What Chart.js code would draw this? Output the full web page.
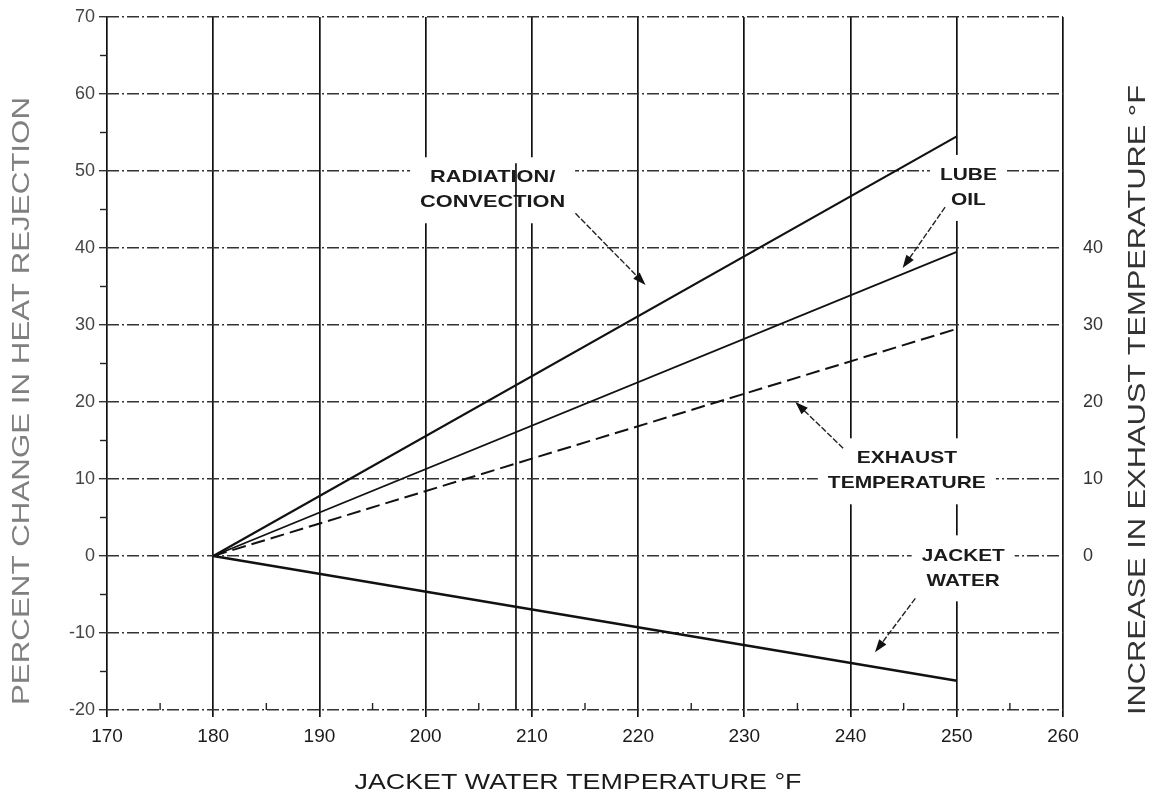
<!DOCTYPE html>
<html>
<head>
<meta charset="utf-8">
<script src="https://cdn.jsdelivr.net/npm/chart.js@4.4.1/dist/chart.umd.min.js"></script>
<style>
  html, body { margin: 0; padding: 0; background: #fff; }
  #wrap { width: 1160px; height: 803px; }
</style>
</head>
<body>
<div id="wrap"><canvas id="c" width="1160" height="803"></canvas></div>
<script>
// Jacket water temperature (°F) on the horizontal axis
const X_TICKS = [170, 180, 190, 200, 210, 220, 230, 240, 250, 260];
const X_MINOR = [175, 185, 195, 205, 215, 225, 235, 245, 255];
const Y_TICKS = [-20, -10, 0, 10, 20, 30, 40, 50, 60, 70];
const Y_MINOR = [-15, -5, 5, 15, 25, 35, 45, 55, 65];
const RIGHT_TICKS = [0, 10, 20, 30, 40];

// Each curve runs from the 180 °F reference to 250 °F
const JACKET_TEMP = [180, 250];
const RADIATION_CONVECTION = [0, 54.5];
const LUBE_OIL = [0, 39.5];
const EXHAUST_TEMPERATURE = [0, 29.5];
const JACKET_WATER = [0, -16.2];

// Short extra rule near 208.5 °F (x, from y, to y)
const EXTRA_RULE = [208.5, 51, -20];

const pts = (ys) => JACKET_TEMP.map((x, i) => ({ x, y: ys[i] }));

// Callout labels with leader arrows, in data units
const NOTES = [
  { lines: ['RADIATION/', 'CONVECTION'], at: [206.3, 47.5], w: 145, from: [214.1, 44.5], to: [220.7, 35.2] },
  { lines: ['LUBE', 'OIL'], at: [251.1, 47.8], w: 57, from: [248.9, 45.3], to: [244.9, 37.4] },
  { lines: ['EXHAUST', 'TEMPERATURE'], at: [245.3, 11.0], w: 158, from: [239.3, 14.0], to: [234.8, 20.0] },
  { lines: ['JACKET', 'WATER'], at: [250.6, -1.6], w: 83, from: [246.1, -5.5], to: [242.3, -12.5] }
];

const FONT = "'Liberation Sans', Arial, sans-serif";

function stretchedText(ctx, text, cx, cy, font, target, color, rot) {
  ctx.save();
  ctx.translate(cx, cy);
  ctx.rotate(rot || 0);
  ctx.font = font;
  const w = ctx.measureText(text).width;
  ctx.scale(target / w, 1);
  ctx.textAlign = 'center';
  ctx.textBaseline = 'middle';
  ctx.fillStyle = color;
  ctx.fillText(text, 0, 0);
  ctx.restore();
}

function arrow(ctx, x1, y1, x2, y2) {
  const a = Math.atan2(y2 - y1, x2 - x1);
  const L = 13, H = 4.5;
  ctx.save();
  ctx.strokeStyle = '#222';
  ctx.lineWidth = 1.4;
  ctx.setLineDash([6, 2]);
  ctx.beginPath();
  ctx.moveTo(x1, y1);
  ctx.lineTo(x2 - Math.cos(a) * L * 0.7, y2 - Math.sin(a) * L * 0.7);
  ctx.stroke();
  ctx.setLineDash([]);
  ctx.fillStyle = '#111';
  ctx.beginPath();
  ctx.moveTo(x2, y2);
  ctx.lineTo(x2 - L * Math.cos(a) + H * Math.sin(a), y2 - L * Math.sin(a) - H * Math.cos(a));
  ctx.lineTo(x2 - L * Math.cos(a) - H * Math.sin(a), y2 - L * Math.sin(a) + H * Math.cos(a));
  ctx.closePath();
  ctx.fill();
  ctx.restore();
}

const overlay = {
  id: 'overlay',
  beforeDatasetsDraw(chart) {
    const { ctx, scales: { x, y } } = chart;
    // minor ticks: left axis outward, bottom axis inward
    ctx.save();
    ctx.strokeStyle = '#222';
    ctx.lineWidth = 1.4;
    const left = chart.chartArea.left, bottom = chart.chartArea.bottom;
    Y_MINOR.forEach(v => {
      const py = y.getPixelForValue(v);
      ctx.beginPath(); ctx.moveTo(left - 7, py); ctx.lineTo(left, py); ctx.stroke();
    });
    X_MINOR.forEach(v => {
      const px = x.getPixelForValue(v);
      ctx.beginPath(); ctx.moveTo(px, bottom); ctx.lineTo(px, bottom - 7); ctx.stroke();
    });
    ctx.restore();

    // callout labels on white boxes
    const lh = 25;
    const font = 'bold 17px ' + FONT;
    NOTES.forEach(n => {
      const cx = x.getPixelForValue(n.at[0]);
      const cy = y.getPixelForValue(n.at[1]);
      const h = lh * n.lines.length;
      ctx.save();
      ctx.fillStyle = '#fff';
      ctx.fillRect(cx - n.w / 2 - 10, cy - h / 2 - 8, n.w + 20, h + 16);
      ctx.font = font;
      const maxW = Math.max(...n.lines.map(t => ctx.measureText(t).width));
      const sx = n.w / maxW;
      n.lines.forEach((t, i) => {
        const ty = cy - h / 2 + lh * (i + 0.5);
        ctx.save();
        ctx.translate(cx, ty);
        ctx.scale(sx, 1);
        ctx.textAlign = 'center';
        ctx.textBaseline = 'middle';
        ctx.fillStyle = '#1a1a1a';
        ctx.fillText(t, 0, 0);
        ctx.restore();
      });
      ctx.restore();
    });
  },
  afterDatasetsDraw(chart) {
    const { ctx, scales: { x, y } } = chart;
    const rx = x.getPixelForValue(EXTRA_RULE[0]);
    ctx.save();
    ctx.strokeStyle = '#151515';
    ctx.lineWidth = 1.7;
    ctx.beginPath();
    ctx.moveTo(rx, y.getPixelForValue(EXTRA_RULE[1]));
    ctx.lineTo(rx, y.getPixelForValue(EXTRA_RULE[2]));
    ctx.stroke();
    ctx.restore();
    NOTES.forEach(n => {
      arrow(ctx, x.getPixelForValue(n.from[0]), y.getPixelForValue(n.from[1]),
        x.getPixelForValue(n.to[0]), y.getPixelForValue(n.to[1]));
    });
  },
  afterDraw(chart) {
    const ctx = chart.ctx;
    stretchedText(ctx, 'JACKET WATER TEMPERATURE °F', 578, 783, '22px ' + FONT, 447, '#1a1a1a', 0);
    stretchedText(ctx, 'PERCENT CHANGE IN HEAT REJECTION', 22, 401, '24px ' + FONT, 608, '#808080', -Math.PI / 2);
    stretchedText(ctx, 'INCREASE IN EXHAUST TEMPERATURE °F', 1138, 400, '24px ' + FONT, 630, '#333', -Math.PI / 2);
  }
};

const lineDs = (label, ys, width, dash) => ({
  label, data: pts(ys), borderColor: '#111', borderWidth: width,
  borderDash: dash || [], pointRadius: 0, tension: 0, fill: false
});

const fitVertical = (w) => (s) => { s.width = w; s.paddingTop = 0; s.paddingBottom = 0; };

new Chart(document.getElementById('c'), {
  type: 'line',
  data: {
    datasets: [
      lineDs('Radiation/Convection', RADIATION_CONVECTION, 2.2),
      lineDs('Lube Oil', LUBE_OIL, 1.8),
      lineDs('Exhaust Temperature', EXHAUST_TEMPERATURE, 2, [14, 6]),
      lineDs('Jacket Water', JACKET_WATER, 2.4)
    ]
  },
  options: {
    responsive: false,
    animation: false,
    layout: { padding: { top: 17, left: 0, right: 0, bottom: 0 } },
    plugins: { legend: { display: false }, tooltip: { enabled: false } },
    scales: {
      x: {
        type: 'linear', min: 170, max: 260,
        afterBuildTicks: s => { s.ticks = X_TICKS.map(v => ({ value: v })); },
        afterFit: s => { s.height = 93; s.paddingLeft = 0; s.paddingRight = 0; },
        ticks: { font: { family: FONT, size: 19 }, color: '#1a1a1a', padding: 8, maxRotation: 0 },
        grid: { color: '#111', lineWidth: 1.7, tickLength: 7, tickColor: '#111' },
        border: { display: false }
      },
      y: {
        type: 'linear', position: 'left', min: -20, max: 70,
        afterBuildTicks: s => { s.ticks = Y_TICKS.map(v => ({ value: v })); },
        afterFit: fitVertical(107),
        ticks: { font: { family: FONT, size: 18 }, color: '#444', padding: 4 },
        grid: { color: '#333', lineWidth: 1.4, tickLength: 8, tickColor: '#333' },
        border: { display: false, dash: [12, 3, 2, 3] }
      },
      y2: {
        type: 'linear', position: 'right', min: -20, max: 70,
        afterBuildTicks: s => { s.ticks = RIGHT_TICKS.map(v => ({ value: v })); },
        afterFit: fitVertical(97),
        ticks: { font: { family: FONT, size: 18 }, color: '#333', padding: 20 },
        grid: { display: false, drawTicks: false },
        border: { display: false }
      }
    }
  },
  plugins: [overlay]
});
</script>
</body>
</html>
